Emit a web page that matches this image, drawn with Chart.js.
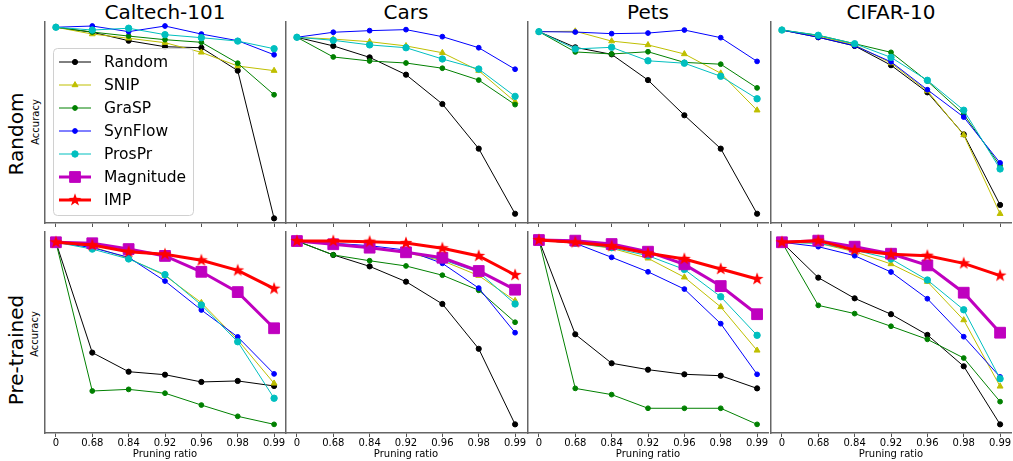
<!DOCTYPE html>
<html><head><meta charset="utf-8">
<script src="https://cdn.jsdelivr.net/npm/chart.js@4.4.1/dist/chart.umd.min.js"></script>
<style>
body{margin:0;background:#fff;}
#wrap{position:relative;width:1013px;height:461px;overflow:hidden;font-family:"DejaVu Sans",sans-serif;color:#000;}
#wrap canvas{position:absolute;}
.title{position:absolute;top:2px;width:240px;text-align:center;font-size:20px;line-height:20px;white-space:nowrap;}
.rot{position:absolute;white-space:nowrap;transform:translate(-50%,-50%) rotate(-90deg);}
</style></head><body><div id="wrap"></div>
<script>
// ---------- data ----------
const ratios = ['0','0.68','0.84','0.92','0.96','0.98','0.99'];
const datasetsNames = ['Caltech-101','Cars','Pets','CIFAR-10'];
const rowNames = ['Random','Pre-trained'];
const methods = ['Random','SNIP','GraSP','SynFlow','ProsPr','Magnitude','IMP'];

// Relative accuracy (0 = bottom of panel, 100 = top), rows: Caltech-101, Cars, Pets, CIFAR-10
// Random initialisation
const initRandom = [
  [97.4, 94.9, 90.7, 87.7, 87.2, 75.8, 2.3],
  [92.4, 88.1, 82.4, 73.8, 59.2, 37.0, 4.6],
  [95.2, 87.4, 83.9, 71.1, 53.6, 37.0, 4.6],
  [96.0, 92.4, 88.1, 78.5, 65.0, 44.1, 9.0]];
const initSNIP = [
  [97.4, 94.0, 91.9, 89.7, 84.9, 78.1, 75.8],
  [92.4, 91.5, 90.2, 88.1, 84.7, 75.8, 60.3],
  [95.2, 95.4, 90.5, 88.6, 84.1, 74.5, 56.1],
  [96.0, 93.0, 88.6, 79.6, 65.7, 43.8, 4.6]];
const initGraSP = [
  [97.4, 95.0, 93.0, 91.2, 89.9, 79.5, 63.8],
  [92.4, 82.6, 80.6, 79.6, 77.0, 71.1, 58.9],
  [95.2, 85.1, 84.1, 85.2, 79.9, 79.0, 67.2],
  [96.0, 93.4, 89.2, 84.9, 70.6, 54.1, 28.5]];
const initSynFlow = [
  [97.4, 98.0, 95.2, 98.0, 94.0, 90.7, 83.7],
  [92.4, 94.9, 95.7, 96.2, 92.7, 87.2, 76.5],
  [95.2, 95.0, 94.2, 94.5, 96.0, 92.2, 80.4],
  [96.0, 92.4, 88.2, 80.2, 66.3, 52.7, 29.9]];
const initProsPr = [
  [97.4, 96.0, 96.9, 93.7, 92.2, 90.5, 86.7],
  [92.4, 90.9, 88.6, 87.2, 81.6, 76.6, 63.0],
  [95.2, 86.6, 87.4, 80.7, 79.5, 73.0, 61.8],
  [96.0, 93.4, 89.2, 82.4, 71.0, 56.1, 26.9]];
// Pre-trained
const ptRandom = [
  [94.9, 40.0, 30.5, 29.0, 25.4, 25.9, 23.4],
  [95.5, 88.6, 82.9, 75.3, 64.2, 41.9, 4.3],
  [96.0, 49.1, 34.7, 31.5, 29.2, 28.5, 22.2],
  [94.9, 77.3, 67.0, 59.1, 48.8, 33.2, 4.3]];
const ptSNIP = [
  [94.9, 92.7, 86.9, 78.3, 64.8, 46.3, 24.7],
  [95.5, 94.4, 92.2, 89.7, 85.7, 78.3, 65.8],
  [96.0, 94.4, 91.9, 86.9, 77.5, 62.7, 41.1],
  [94.9, 94.4, 90.2, 84.1, 75.3, 56.2, 23.2]];
const ptGraSP = [
  [94.9, 20.9, 21.7, 19.8, 13.9, 8.3, 4.3],
  [95.5, 88.6, 85.7, 83.1, 78.5, 71.0, 55.1],
  [96.0, 22.2, 19.1, 12.3, 12.3, 12.3, 4.3],
  [94.9, 63.5, 59.4, 53.1, 46.6, 37.3, 15.6]];
const ptSynFlow = [
  [94.9, 92.2, 87.4, 75.6, 61.2, 47.8, 29.4],
  [95.5, 94.4, 93.2, 91.0, 84.4, 72.1, 49.9],
  [96.0, 94.4, 87.4, 80.2, 71.6, 54.4, 29.2],
  [94.9, 92.7, 88.2, 80.1, 66.8, 47.9, 27.9]];
const ptProsPr = [
  [94.9, 91.5, 86.6, 78.8, 63.7, 45.4, 17.3],
  [95.5, 94.4, 92.5, 90.2, 86.2, 80.0, 64.2],
  [96.0, 94.4, 92.2, 88.2, 81.4, 67.8, 48.6],
  [94.9, 94.4, 91.0, 86.6, 76.1, 61.3, 27.0]];
const ptMagnitude = [
  [94.9, 94.4, 91.5, 88.1, 80.2, 70.1, 52.1],
  [95.5, 93.9, 92.2, 89.9, 87.2, 80.6, 71.3],
  [96.0, 95.7, 94.0, 90.2, 83.9, 73.1, 59.1],
  [94.9, 95.7, 92.7, 89.2, 83.4, 69.8, 49.9]];
const ptIMP = [
  [94.9, 93.5, 90.2, 88.9, 85.9, 80.9, 71.8],
  [95.5, 95.5, 95.2, 94.5, 91.9, 88.1, 78.6],
  [96.0, 94.9, 93.0, 89.4, 86.6, 81.6, 76.6],
  [94.9, 95.7, 91.0, 88.9, 88.2, 84.4, 78.3]];

const rowData = [
  [initRandom, initSNIP, initGraSP, initSynFlow, initProsPr, null, null],
  [ptRandom, ptSNIP, ptGraSP, ptSynFlow, ptProsPr, ptMagnitude, ptIMP]];

// ---------- styles ----------
function makeStar(r, inner, color){
  const s = Math.ceil(r*2+2);
  const c = document.createElement('canvas'); c.width = s; c.height = s;
  const g = c.getContext('2d'); g.fillStyle = color; g.beginPath();
  for (let k=0;k<10;k++){
    const rad = k%2 ? inner : r; const a = -Math.PI/2 + k*Math.PI/5;
    g.lineTo(s/2 + rad*Math.cos(a), s/2 + rad*Math.sin(a));
  }
  g.closePath(); g.fill(); return c;
}
const starImg = makeStar(6.8, 2.7, '#ff0000');
const styles = [
  {color:'#000000', width:1, point:'circle', radius:2.6},
  {color:'#bfbf00', width:1, point:'triangle', radius:3.4},
  {color:'#008000', width:1, point:'circle', radius:2.4},
  {color:'#0000ff', width:1, point:'circle', radius:2.4},
  {color:'#00bfbf', width:1, point:'circle', radius:3.2},
  {color:'#bf00bf', width:3, point:'rect', radius:7.6},
  {color:'#ff0000', width:3, point:starImg, radius:6},
];

// ---------- layout ----------
const PL = [45, 286, 528, 771], PW = 240;
const PT = [22, 232], PH = 201;
const PAD = 5;
const AXH = [8, 27];
const TICKLEN = 4;

Chart.defaults.font.family = '"DejaVu Sans", sans-serif';
const wrap = document.getElementById('wrap');

function addDiv(cls, text, css){
  const d = document.createElement('div'); d.className = cls; d.textContent = text;
  Object.assign(d.style, css); wrap.appendChild(d); return d;
}
datasetsNames.forEach((t,c)=> addDiv('title', t, {left: PL[c]+'px'}));
addDiv('rot', rowNames[0], {left:'16px', top:'134px', fontSize:'20px', lineHeight:'20px'});
addDiv('rot', rowNames[1], {left:'16px', top:'350px', fontSize:'20px', lineHeight:'20px'});
addDiv('rot', 'Accuracy', {left:'36px', top:'122px', fontSize:'10px', lineHeight:'10px'});
addDiv('rot', 'Accuracy', {left:'35px', top:'334px', fontSize:'10px', lineHeight:'10px'});

// tick labels drawn at the x scale's own tick pixels
const tickLabelPlugin = {
  id: 'tickLabels',
  afterDraw(chart){
    const o = chart.options.plugins.tickLabels;
    if (!o || !o.show) return;
    const xs = chart.scales.x, ctx = chart.ctx;
    ctx.save();
    ctx.fillStyle = '#000'; ctx.font = '10px "DejaVu Sans", sans-serif';
    ctx.textAlign = 'center'; ctx.textBaseline = 'middle';
    xs.ticks.forEach(t => {
      ctx.fillText(ratios[t.value], xs.getPixelForValue(t.value), chart.chartArea.bottom + TICKLEN + 6.5);
    });
    ctx.restore();
  }
};

const legendPlugin = {
  id: 'innerLegend',
  afterDraw(chart){
    if (!chart.options.plugins.innerLegend || !chart.options.plugins.innerLegend.show) return;
    const ca = chart.chartArea, ctx = chart.ctx;
    const x0 = ca.left + 8.5, y0 = ca.top + 26.5, w = 140, h = 167, r = 4;
    ctx.save();
    ctx.beginPath();
    ctx.moveTo(x0+r, y0); ctx.lineTo(x0+w-r, y0); ctx.quadraticCurveTo(x0+w, y0, x0+w, y0+r);
    ctx.lineTo(x0+w, y0+h-r); ctx.quadraticCurveTo(x0+w, y0+h, x0+w-r, y0+h);
    ctx.lineTo(x0+r, y0+h); ctx.quadraticCurveTo(x0, y0+h, x0, y0+h-r);
    ctx.lineTo(x0, y0+r); ctx.quadraticCurveTo(x0, y0, x0+r, y0); ctx.closePath();
    ctx.fillStyle = 'rgba(255,255,255,0.85)'; ctx.fill();
    ctx.strokeStyle = '#d0d0d0'; ctx.lineWidth = 1; ctx.stroke();
    chart.data.datasets.forEach((ds, i) => {
      const y = ca.top + 40 + i*23;
      ctx.strokeStyle = ds.borderColor; ctx.lineWidth = ds.borderWidth;
      ctx.beginPath(); ctx.moveTo(ca.left+14, y); ctx.lineTo(ca.left+46, y); ctx.stroke();
      ctx.fillStyle = ds.borderColor; ctx.strokeStyle = ds.borderColor; ctx.lineWidth = 1;
      Chart.helpers.drawPoint(ctx, {pointStyle: ds.pointStyle, radius: ds.pointRadius, borderWidth: 1, rotation: 0}, ca.left+30, y);
      ctx.fillStyle = '#000'; ctx.font = '15.5px "DejaVu Sans", sans-serif';
      ctx.textBaseline = 'middle'; ctx.textAlign = 'left';
      ctx.fillText(ds.label, ca.left+59, y+1);
    });
    ctx.restore();
  }
};

for (let r=0; r<2; r++){
  for (let c=0; c<4; c++){
    const cv = document.createElement('canvas');
    const W = PW + 2*PAD, H = PAD + PH + AXH[r];
    cv.width = W; cv.height = H;
    cv.style.left = (PL[c]-PAD)+'px'; cv.style.top = (PT[r]-PAD)+'px';
    cv.style.width = W+'px'; cv.style.height = H+'px';
    wrap.appendChild(cv);
    const datasets = [];
    methods.forEach((m, i) => {
      const src = rowData[r][i];
      if (!src && !(r===0 && c===0)) return;
      const st = styles[i];
      datasets.push({
        label: m,
        data: src ? src[c].map((v,k)=>({x:k, y:v})) : [],
        borderColor: st.color, backgroundColor: st.color,
        borderWidth: st.width,
        pointStyle: st.point, pointRadius: st.radius, pointHoverRadius: st.radius,
        pointBackgroundColor: st.color, pointBorderColor: st.color, pointBorderWidth: 1,
        tension: 0, clip: false, order: methods.length - i
      });
    });
    new Chart(cv, {
      type: 'line',
      data: {datasets},
      options: {
        responsive: false, animation: false, devicePixelRatio: 1,
        layout: {autoPadding: false, padding: {left: PAD, right: PAD, top: PAD, bottom: 0}},
        plugins: {legend: {display:false}, tooltip: {enabled:false},
                  innerLegend: {show: r===0 && c===0}, tickLabels: {show: r===1}},
        scales: {
          x: {
            type: 'linear', min: -0.3, max: 6.3,
            afterBuildTicks: ax => { ax.ticks = ratios.map((_, k) => ({value: k})); },
            afterFit: ax => { ax.height = AXH[r]; },
            ticks: {display: false},
            grid: {display:true, drawOnChartArea:false, drawTicks:true, tickLength:TICKLEN, color:'#555', lineWidth:1},
            border: {display:true, color:'#666', width:1.5},
            title: {display: r===1, text:'Pruning ratio', color:'#000', font:{size:10}, padding:0}
          },
          y: {
            type: 'linear', min: 0, max: 100,
            afterFit: ax => { ax.width = 0; },
            ticks: {display:false},
            grid: {display:false, drawTicks:false},
            border: {display:true, color:'#666', width:1.5}
          }
        }
      },
      plugins: [legendPlugin, tickLabelPlugin]
    });
  }
}
</script></body></html>
